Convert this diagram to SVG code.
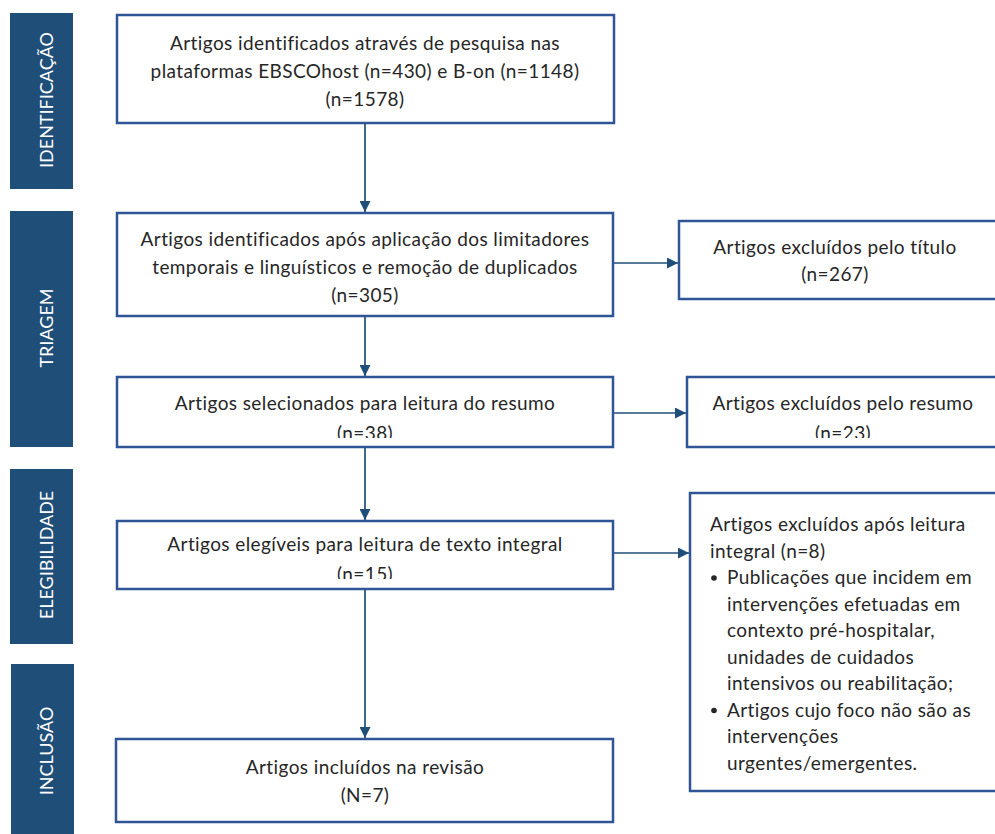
<svg xmlns="http://www.w3.org/2000/svg" width="995" height="834" viewBox="0 0 995 834">
<style>
.side{fill:#1F4E79;}
.stxt{fill:#FFFFFF;font-family:"Lato","Liberation Sans",sans-serif;font-size:18px;text-anchor:middle;dominant-baseline:central;}
.box{fill:#FFFFFF;stroke:#2F5597;stroke-width:2.5;}
.txt{fill:#262626;font-family:"Lato","Liberation Sans",sans-serif;font-size:19px;letter-spacing:0.4px;text-anchor:middle;}
.ltxt{fill:#262626;font-family:"Lato","Liberation Sans",sans-serif;font-size:19px;letter-spacing:0.4px;}
.con{stroke:#1F4E79;stroke-width:1.7;fill:none;marker-end:url(#ah);}
</style>
<defs>
<marker id="ah" viewBox="0 0 10 10" refX="10" refY="5" markerWidth="11" markerHeight="11" markerUnits="userSpaceOnUse" orient="auto">
<path d="M0,0 L10,5 L0,10 Z" fill="#1F4E79"/>
</marker>
<clipPath id="c3"><rect x="117" y="377" width="497" height="61"/></clipPath>
<clipPath id="c3b"><rect x="687" y="377" width="308" height="61"/></clipPath>
<clipPath id="c4"><rect x="117" y="521" width="497" height="58"/></clipPath>
</defs>
<rect width="995" height="834" fill="#FFFFFF"/>

<g id="stage-identificacao">
<rect class="side" x="10" y="13" width="63" height="176"/>
<text class="stxt" transform="translate(46,100) rotate(-90)">IDENTIFICAÇÃO</text>
</g>
<g id="stage-triagem">
<rect class="side" x="10" y="211" width="63" height="236"/>
<text class="stxt" transform="translate(46,328) rotate(-90)">TRIAGEM</text>
</g>
<g id="stage-elegibilidade">
<rect class="side" x="10" y="469" width="63" height="175"/>
<text class="stxt" transform="translate(46,555) rotate(-90)">ELEGIBILIDADE</text>
</g>
<g id="stage-inclusao">
<rect class="side" x="11" y="664" width="63" height="175"/>
<text class="stxt" transform="translate(46,751) rotate(-90)">INCLUSÃO</text>
</g>

<g id="connectors">
<path class="con" d="M365,123 V212"/>
<path class="con" d="M365,316 V376"/>
<path class="con" d="M365,447 V520"/>
<path class="con" d="M365,589 V738"/>
<path class="con" d="M614,263 H678"/>
<path class="con" d="M614,413 H686"/>
<path class="con" d="M614,553 H689"/>
</g>

<g id="n1">
<rect class="box" x="117" y="15" width="497" height="108"/>
<text class="txt" x="365" y="50">Artigos identificados através de pesquisa nas</text>
<text class="txt" x="365" y="78">plataformas EBSCOhost (n=430) e B-on (n=1148)</text>
<text class="txt" x="365" y="106">(n=1578)</text>
</g>
<g id="n2">
<rect class="box" x="117" y="213" width="496" height="103"/>
<text class="txt" x="365" y="246">Artigos identificados após aplicação dos limitadores</text>
<text class="txt" x="365" y="274">temporais e linguísticos e remoção de duplicados</text>
<text class="txt" x="365" y="302">(n=305)</text>
</g>
<g id="n2x">
<rect class="box" x="679" y="221" width="320" height="78"/>
<text class="txt" x="835" y="254">Artigos excluídos pelo título</text>
<text class="txt" x="835" y="281">(n=267)</text>
</g>
<g id="n3">
<rect class="box" x="117" y="377" width="496" height="70"/>
<text class="txt" x="365" y="410">Artigos selecionados para leitura do resumo</text>
<text class="txt" x="365" y="440" clip-path="url(#c3)">(n=38)</text>
</g>
<g id="n3x">
<rect class="box" x="687" y="377" width="312" height="70"/>
<text class="txt" x="843" y="410">Artigos excluídos pelo resumo</text>
<text class="txt" x="843" y="440" clip-path="url(#c3b)">(n=23)</text>
</g>
<g id="n4">
<rect class="box" x="117" y="521" width="496" height="68"/>
<text class="txt" x="365" y="551">Artigos elegíveis para leitura de texto integral</text>
<text class="txt" x="365" y="581" clip-path="url(#c4)">(n=15)</text>
</g>
<g id="n4x">
<rect class="box" x="690" y="493" width="309" height="298"/>
<text class="ltxt" x="710" y="531">Artigos excluídos após leitura</text>
<text class="ltxt" x="710" y="557.5">integral (n=8)</text>
<circle cx="714" cy="578" r="2.8" fill="#262626"/>
<text class="ltxt" x="727" y="584">Publicações que incidem em</text>
<text class="ltxt" x="727" y="610.5">intervenções efetuadas em</text>
<text class="ltxt" x="727" y="637">contexto pré-hospitalar,</text>
<text class="ltxt" x="727" y="663.5">unidades de cuidados</text>
<text class="ltxt" x="727" y="690">intensivos ou reabilitação;</text>
<circle cx="714" cy="710.5" r="2.8" fill="#262626"/>
<text class="ltxt" x="727" y="716.5">Artigos cujo foco não são as</text>
<text class="ltxt" x="727" y="743">intervenções</text>
<text class="ltxt" x="727" y="769.5">urgentes/emergentes.</text>
</g>
<g id="n5">
<rect class="box" x="116" y="739" width="497" height="83"/>
<text class="txt" x="365" y="774">Artigos incluídos na revisão</text>
<text class="txt" x="365" y="802">(N=7)</text>
</g>
</svg>
